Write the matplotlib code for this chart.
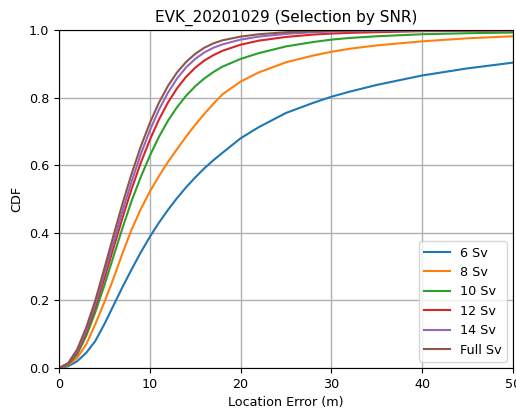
import numpy as np
import matplotlib
matplotlib.use("Agg")
import matplotlib.pyplot as plt

plt.rcParams["font.size"] = 9.2

# location error (m) sample points and CDF values
err = [0, 1, 2, 3, 4, 5, 6, 7, 8, 9, 10, 11, 12, 13, 14, 15, 16, 17, 18,
       20, 22, 25, 28, 30, 32, 35, 40, 45, 50]

cdf_6 = [0, 0.005, 0.02, 0.045, 0.08, 0.13, 0.185, 0.24, 0.292, 0.342, 0.388, 0.43, 0.468,
         0.503, 0.535, 0.564, 0.591, 0.615, 0.637, 0.68, 0.713, 0.755, 0.785, 0.803, 0.818,
         0.838, 0.866, 0.887, 0.904]
cdf_8 = [0, 0.008, 0.03, 0.07, 0.13, 0.195, 0.265, 0.34, 0.41, 0.47, 0.522, 0.568, 0.61,
         0.648, 0.685, 0.72, 0.752, 0.782, 0.81, 0.848, 0.875, 0.905, 0.925, 0.936, 0.945,
         0.955, 0.967, 0.976, 0.982]
cdf_10 = [0, 0.01, 0.04, 0.095, 0.165, 0.245, 0.33, 0.415, 0.495, 0.565, 0.628, 0.684, 0.732,
          0.772, 0.806, 0.834, 0.857, 0.876, 0.892, 0.915, 0.932, 0.952, 0.965, 0.972, 0.977,
          0.982, 0.988, 0.991, 0.993]
cdf_12 = [0, 0.012, 0.045, 0.105, 0.18, 0.265, 0.355, 0.445, 0.53, 0.607, 0.675, 0.735, 0.786,
          0.828, 0.862, 0.889, 0.91, 0.926, 0.939, 0.957, 0.969, 0.98, 0.987, 0.99, 0.992,
          0.994, 0.997, 0.998, 0.999]
cdf_14 = [0, 0.013, 0.05, 0.112, 0.19, 0.28, 0.373, 0.465, 0.552, 0.632, 0.703, 0.764, 0.815,
          0.857, 0.89, 0.915, 0.934, 0.948, 0.958, 0.972, 0.981, 0.989, 0.994, 0.996, 0.997,
          0.998, 0.999, 1.0, 1.0]
cdf_full = [0, 0.014, 0.055, 0.12, 0.2, 0.295, 0.392, 0.487, 0.575, 0.655, 0.725, 0.785, 0.835,
            0.875, 0.906, 0.93, 0.948, 0.961, 0.97, 0.981, 0.988, 0.994, 0.997, 0.998, 0.999,
            1.0, 1.0, 1.0, 1.0]

labels = ["6 Sv", "8 Sv", "10 Sv", "12 Sv", "14 Sv", "Full Sv"]
series = [cdf_6, cdf_8, cdf_10, cdf_12, cdf_14, cdf_full]

fig = plt.figure(figsize=(5.16, 4.09), dpi=100)
ax = fig.add_axes([0.1143, 0.1002, 0.880, 0.826])

for vals, lab in zip(series, labels):
    ax.plot(err, vals, label=lab, linewidth=1.5)

ax.set_xlim(0, 50)
ax.set_ylim(0, 1.0)
ax.grid(True, linewidth=1.0)
ax.set_title("EVK_20201029 (Selection by SNR)", fontsize=11)
ax.set_xlabel("Location Error (m)")
ax.set_ylabel("CDF")
ax.legend(loc="lower right")

fig.savefig("out.png", dpi=100)
